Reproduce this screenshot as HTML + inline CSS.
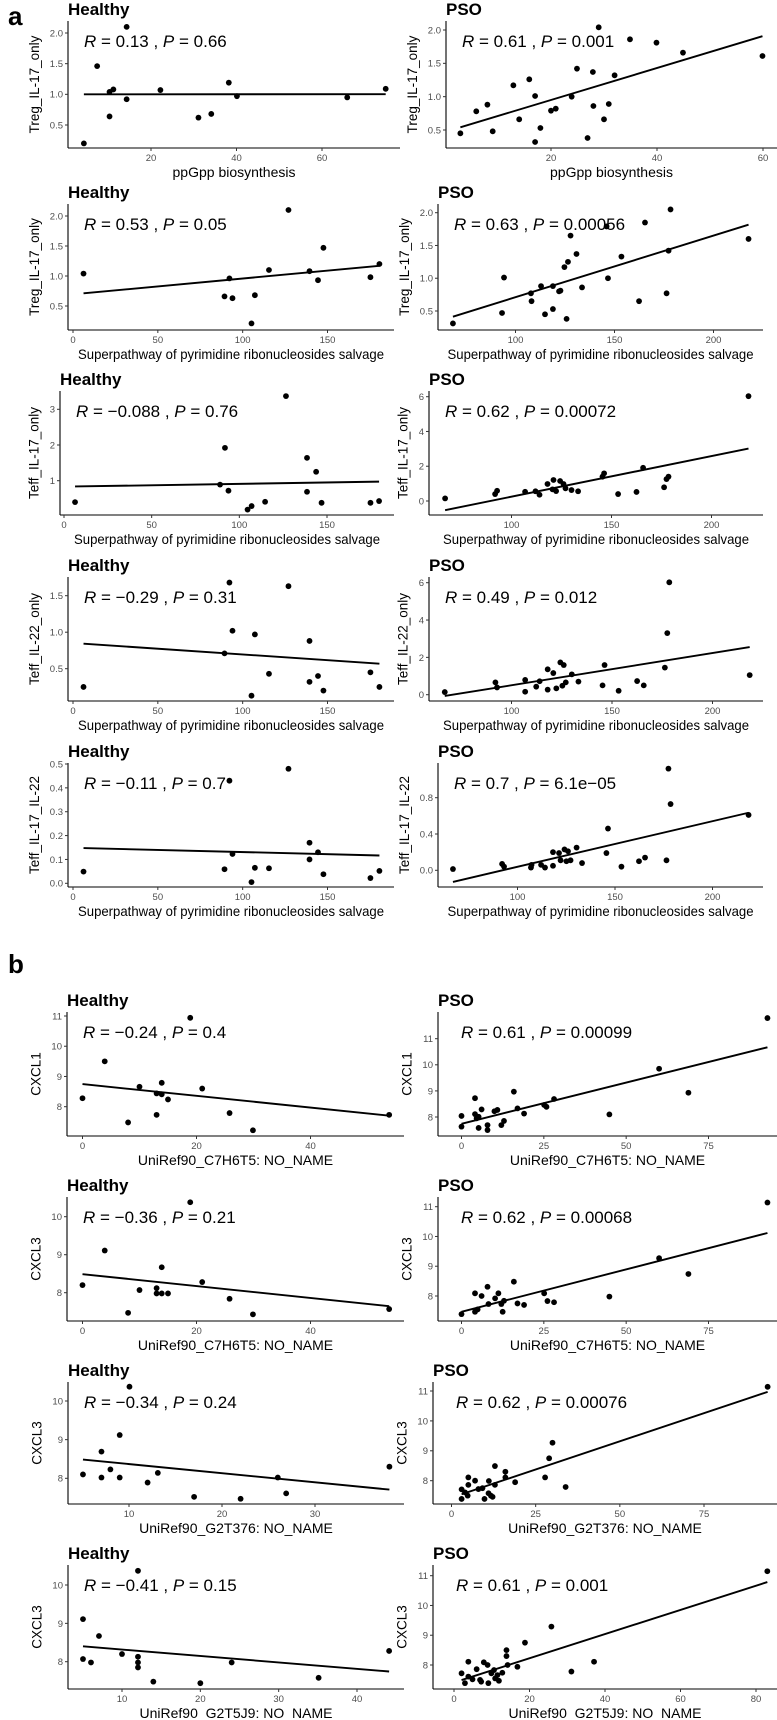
<!DOCTYPE html>
<html><head><meta charset="utf-8"><style>
html,body{margin:0;padding:0;background:#fff;}
svg{display:block;font-family:"Liberation Sans",Arial,sans-serif;}
</style></head><body>
<svg id="fig" width="777" height="1720" viewBox="0 0 777 1720" xmlns="http://www.w3.org/2000/svg">
<rect width="777" height="1720" fill="#fff"/>
<text x="8" y="25" font-size="26" font-weight="bold">a</text>
<text x="8" y="973" font-size="26" font-weight="bold">b</text>
</svg>
<script>
const a1hX=[4.3,7.4,14.3,10.3,11.2,10.3,14.3,22.2,31.1,34.1,38.2,40.1,65.9,74.9];
const a1hY=[0.20,1.46,2.10,1.04,1.08,0.64,0.92,1.07,0.62,0.68,1.19,0.97,0.95,1.09];
const a1pX=[2.9,5.9,8.0,9.0,12.9,14.0,15.9,17.0,17.0,18.0,20.0,20.9,23.9,24.9,27.9,28.0,26.9,29.0,30.0,30.9,32.0,34.9,39.9,44.9,59.9];
const a1pY=[0.45,0.78,0.88,0.48,1.17,0.66,1.26,1.01,0.32,0.53,0.79,0.82,1.0,1.42,1.37,0.86,0.38,2.04,0.66,0.89,1.32,1.86,1.81,1.66,1.61];
const a2hX=[6.2,89.3,92.2,94.0,107.2,105.2,115.5,127.0,139.4,144.4,147.6,175.3,180.6];
const a2hY=[1.04,0.66,0.96,0.63,0.68,0.21,1.10,2.10,1.08,0.93,1.47,0.98,1.20];
const a2pX=[68.4,93.2,94.2,107.8,108.1,112.9,114.9,118.9,118.9,122.0,122.7,124.7,126.5,125.8,127.8,130.8,133.6,146.0,146.7,153.5,162.4,165.4,176.3,177.3,178.3,217.7];
const a2pY=[0.31,0.47,1.01,0.77,0.65,0.88,0.45,0.88,0.53,0.80,0.81,1.17,1.25,0.38,1.65,1.37,0.86,1.79,1.0,1.33,0.65,1.85,0.77,1.42,2.05,1.60];
const a3hX=[6.3,89.0,91.8,93.8,104.7,107.0,114.7,126.6,138.6,138.6,143.8,146.9,174.8,179.7];
const a3hY=[0.40,0.89,1.92,0.72,0.19,0.29,0.41,3.37,0.69,1.64,1.25,0.38,0.38,0.43];
const a3pX=[66.8,91.8,92.8,106.8,112.0,114.0,118.0,120.5,121.0,122.3,124.3,126.0,127.0,130.0,133.3,145.5,146.3,153.3,162.5,165.8,176.3,177.5,178.5,218.5];
const a3pY=[0.15,0.40,0.59,0.53,0.56,0.36,0.98,0.67,1.21,0.57,1.15,0.98,0.73,0.63,0.56,1.40,1.59,0.40,0.52,1.91,0.79,1.26,1.40,6.03];
const a4hX=[6.2,89.3,92.2,94.0,107.2,105.2,115.5,127.0,139.4,139.4,144.4,147.6,175.3,180.6];
const a4hY=[0.25,0.71,1.68,1.02,0.97,0.13,0.43,1.63,0.88,0.32,0.40,0.20,0.45,0.25];
const a4pX=[66.8,92.0,92.8,106.8,106.8,112.3,114.0,118.0,118.0,120.8,122.3,124.3,125.3,126.0,127.0,130.0,133.3,145.3,146.3,153.3,162.5,165.8,176.3,177.5,178.5,218.5];
const a4pY=[0.14,0.66,0.39,0.79,0.16,0.43,0.72,1.36,0.27,1.16,0.34,1.73,0.48,1.59,0.66,1.09,0.70,0.50,1.59,0.21,0.73,0.50,1.45,3.30,6.02,1.05];
const a5hX=[6.2,89.3,94.0,92.2,105.2,107.2,115.5,127.0,139.4,139.4,144.4,147.6,175.3,180.6];
const a5hY=[0.049,0.059,0.123,0.43,0.005,0.065,0.063,0.48,0.10,0.17,0.13,0.038,0.022,0.052];
const a5pX=[66.9,92.1,93.1,106.9,107.2,112.1,114.1,118.2,118.2,121.3,122.1,124.1,125.9,125.1,127.2,130.3,133.1,145.6,146.4,153.3,162.3,165.4,176.4,177.4,178.5,218.5];
const a5pY=[0.014,0.07,0.04,0.03,0.06,0.06,0.03,0.05,0.20,0.19,0.11,0.23,0.21,0.10,0.11,0.25,0.08,0.19,0.46,0.04,0.10,0.14,0.11,1.12,0.73,0.61];
const b1hX=[0,3.9,8.0,10.0,13.0,13.0,13.9,13.9,15.0,18.9,21.0,25.8,29.9,53.8];
const b1hY=[8.28,9.50,7.48,8.66,8.44,7.73,8.79,8.41,8.24,10.94,8.60,7.79,7.22,7.73];
const b1pX=[0,0,4.1,4.1,4.6,5.2,5.2,6.1,7.9,7.9,10.0,10.9,12.1,12.9,15.9,17.0,19.0,25.1,25.8,28.1,44.9,60.0,68.9,92.9];
const b1pY=[8.04,7.63,8.72,8.11,7.95,8.01,7.58,8.29,7.69,7.50,8.22,8.27,7.69,7.85,8.97,8.33,8.13,8.46,8.39,8.69,8.10,9.85,8.93,11.79];
const b2hX=[0,3.9,8.0,10.0,13.0,13.0,13.9,13.9,15.0,18.9,21.0,25.8,29.9,53.8];
const b2hY=[8.20,9.11,7.47,8.07,8.12,7.98,7.98,8.67,7.98,10.38,8.28,7.84,7.43,7.57];
const b2pX=[0,4.1,4.1,4.9,6.1,7.9,8.2,10.2,11.2,12.1,12.5,12.9,15.9,17.0,19.0,25.1,26.1,28.1,44.9,60.0,68.9,92.9];
const b2pY=[7.39,8.09,7.47,7.55,8.0,8.31,7.73,7.92,8.09,7.73,7.47,7.84,8.48,7.75,7.70,8.09,7.83,7.79,7.98,9.27,8.74,11.14];
const b3hX=[5.05,7.04,7.04,8.0,9.0,9.0,10.05,12.0,13.1,17.0,22.0,26.0,26.9,38.0];
const b3hY=[8.10,8.69,8.02,8.23,9.12,8.02,10.37,7.89,8.14,7.52,7.47,8.02,7.61,8.30];
const b3pX=[3.0,3.0,4.0,4.8,5.0,5.0,7.0,8.0,9.2,9.8,11.0,11.1,11.7,12.2,12.9,16.0,16.0,12.9,18.9,27.8,29.0,30.0,33.9,93.9];
const b3pY=[7.39,7.71,7.61,7.50,7.86,8.11,8.00,7.72,7.75,7.39,7.58,7.99,7.50,7.46,7.86,8.11,8.30,8.49,7.95,8.11,8.75,9.27,7.79,11.14];
const b4hX=[5.02,5.02,6.04,7.06,10,12.04,12.04,12.04,12.04,14.0,20.0,24.0,35.1,44.1];
const b4hY=[8.07,9.11,7.98,8.67,8.20,8.13,7.98,7.85,10.37,7.48,7.44,7.98,7.58,8.28];
const b4pX=[2.0,2.9,3.8,3.8,4.9,6.0,6.9,7.2,7.9,8.9,9.1,9.9,10.6,10.9,11.5,11.9,12.8,13.9,13.9,14.2,16.8,18.8,25.8,31.1,37.1,83.0];
const b4pY=[7.72,7.39,8.11,7.61,7.52,7.86,7.50,7.44,8.09,8.0,7.39,7.72,7.83,7.55,7.66,7.47,7.74,8.50,8.30,8.0,7.94,8.75,9.29,7.78,8.11,11.15];

const rVals=["0.13","0.61","0.53","0.63","\u22120.088","0.62","\u22120.29","0.49","\u22120.11","0.7","\u22120.24","0.61","\u22120.36","0.62","\u22120.34","0.62","\u22120.41","0.61"];
const pVals=["0.66","0.001","0.05","0.00056","0.76","0.00072","0.31","0.012","0.7","6.1e\u221205","0.4","0.00099","0.21","0.00068","0.24","0.00076","0.15","0.001"];
const titles=["Healthy","PSO"];
const yLabels=["Treg_IL-17_only","Treg_IL-17_only","Teff_IL-17_only","Teff_IL-22_only","Teff_IL-17_IL-22","CXCL1","CXCL3","CXCL3","CXCL3"];
const xLabels=["ppGpp biosynthesis","Superpathway of pyrimidine ribonucleosides salvage","Superpathway of pyrimidine ribonucleosides salvage","Superpathway of pyrimidine ribonucleosides salvage","Superpathway of pyrimidine ribonucleosides salvage","UniRef90_C7H6T5: NO_NAME","UniRef90_C7H6T5: NO_NAME","UniRef90_G2T376: NO_NAME","UniRef90_G2T5J9: NO_NAME"];

// layout: box + two-point axis calibrations
const panels=[
 {id:"a1-healthy",X:a1hX,Y:a1hY,L:68,R:400,T:21,B:148,xv:[20,60],xp:[151,322],yv:[0.5,2],yp:[125,33],xt:[20,40,60],yt:[0.5,1,1.5,2],yd:1,row:0},
 {id:"a1-pso",X:a1pX,Y:a1pY,L:446,R:777,T:21,B:148,xv:[20,60],xp:[551,763],yv:[0.5,2],yp:[130,30],xt:[20,40,60],yt:[0.5,1,1.5,2],yd:1,row:0},
 {id:"a2-healthy",X:a2hX,Y:a2hY,L:68,R:394,T:204,B:330,xv:[0,150],xp:[73,327.5],yv:[0.5,2],yp:[306,216],xt:[0,50,100,150],yt:[0.5,1,1.5,2],yd:1,row:1},
 {id:"a2-pso",X:a2pX,Y:a2pY,L:438,R:763,T:204,B:330,xv:[100,200],xp:[515.5,713.5],yv:[0.5,2],yp:[311,212.7],xt:[100,150,200],yt:[0.5,1,1.5,2],yd:1,row:1},
 {id:"a3-healthy",X:a3hX,Y:a3hY,L:60,R:394,T:391,B:515,xv:[0,150],xp:[64,327],yv:[1,3],yp:[480.7,409.3],xt:[0,50,100,150],yt:[1,2,3],yd:0,row:2},
 {id:"a3-pso",X:a3pX,Y:a3pY,L:429,R:763,T:391,B:515,xv:[100,200],xp:[511.5,711.5],yv:[0,6],yp:[501,396.7],xt:[100,150,200],yt:[0,2,4,6],yd:0,row:2},
 {id:"a4-healthy",X:a4hX,Y:a4hY,L:68,R:394,T:577,B:701,xv:[0,150],xp:[73,327.5],yv:[0.5,1.5],yp:[668.7,595.7],xt:[0,50,100,150],yt:[0.5,1,1.5],yd:1,row:3},
 {id:"a4-pso",X:a4pX,Y:a4pY,L:429,R:763,T:577,B:701,xv:[100,200],xp:[511.5,712.5],yv:[0,6],yp:[694.7,582.7],xt:[100,150,200],yt:[0,2,4,6],yd:0,row:3},
 {id:"a5-healthy",X:a5hX,Y:a5hY,L:68,R:394,T:763,B:887,xv:[0,150],xp:[73,327.5],yv:[0,0.5],yp:[883.3,764],xt:[0,50,100,150],yt:[0,0.1,0.2,0.3,0.4,0.5],yd:1,row:4},
 {id:"a5-pso",X:a5pX,Y:a5pY,L:438,R:763,T:763,B:887,xv:[100,200],xp:[517.5,712.5],yv:[0,0.8],yp:[870.3,797.7],xt:[100,150,200],yt:[0,0.4,0.8],yd:1,row:4},
 {id:"b1-healthy",X:b1hX,Y:b1hY,L:67,R:404,T:1012,B:1136,xv:[0,40],xp:[82.5,310.5],yv:[8,11],yp:[1106.7,1016],xt:[0,20,40],yt:[8,9,10,11],yd:0,row:5},
 {id:"b1-pso",X:b1pX,Y:b1pY,L:438,R:777,T:1012,B:1136,xv:[0,75],xp:[461.5,708.5],yv:[8,11],yp:[1117,1038.7],xt:[0,25,50,75],yt:[8,9,10,11],yd:0,row:5,ax:23},
 {id:"b2-healthy",X:b2hX,Y:b2hY,L:67,R:404,T:1197,B:1321,xv:[0,40],xp:[82.5,310.5],yv:[8,10],yp:[1292.7,1216.7],xt:[0,20,40],yt:[8,9,10],yd:0,row:6},
 {id:"b2-pso",X:b2pX,Y:b2pY,L:438,R:777,T:1197,B:1321,xv:[0,75],xp:[461.5,708.5],yv:[8,11],yp:[1296,1206.7],xt:[0,25,50,75],yt:[8,9,10,11],yd:0,row:6,ax:23},
 {id:"b3-healthy",X:b3hX,Y:b3hY,L:68,R:404,T:1382,B:1504,xv:[10,30],xp:[129,315],yv:[8,10],yp:[1478.3,1401],xt:[10,20,30],yt:[8,9,10],yd:0,row:7},
 {id:"b3-pso",X:b3pX,Y:b3pY,L:433,R:777,T:1382,B:1504,xv:[0,75],xp:[451.5,704],yv:[8,11],yp:[1480.7,1391],xt:[0,25,50,75],yt:[8,9,10,11],yd:0,row:7,ax:23},
 {id:"b4-healthy",X:b4hX,Y:b4hY,L:68,R:404,T:1565,B:1689,xv:[10,40],xp:[122,357],yv:[8,10],yp:[1661.7,1585],xt:[10,20,30,40],yt:[8,9,10],yd:0,row:8},
 {id:"b4-pso",X:b4pX,Y:b4pY,L:433,R:777,T:1565,B:1689,xv:[0,80],xp:[454,756],yv:[8,11],yp:[1665,1575.7],xt:[0,20,40,60,80],yt:[8,9,10,11],yd:0,row:8,ax:23}
];

const NS="http://www.w3.org/2000/svg";
const svg=document.getElementById("fig");
function mk(tag,attrs,parent){const e=document.createElementNS(NS,tag);for(const k in attrs)e.setAttribute(k,attrs[k]);(parent||svg).appendChild(e);return e;}
function lin(v,p){const k=(p[1]-p[0])/(v[1]-v[0]);return x=>p[0]+(x-v[0])*k;}

panels.forEach((P,i)=>{
  const g=mk("g",{});
  
  
  const sx=lin(P.xv,P.xp), sy=lin(P.yv,P.yp);
  // title
  const t=mk("text",{x:P.L,y:P.T-6,"font-size":17,"font-weight":"bold"},g);
  t.textContent=titles[i%2];
  
  
  // axes
  const ya=mk("line",{x1:P.L,y1:P.T,x2:P.L,y2:P.B,stroke:"#000","stroke-width":1.1},g);
  
  
  const xa=mk("line",{x1:P.L,y1:P.B,x2:P.R,y2:P.B,stroke:"#000","stroke-width":1.1},g);
  
  
  // x ticks
  P.xt.forEach(v=>{
    const x=sx(v);
    mk("line",{x1:x,y1:P.B,x2:x,y2:P.B+3,stroke:"#333","stroke-width":1},g);
    const tl=mk("text",{x:x,y:P.B+13,"font-size":9.5,fill:"#4d4d4d","text-anchor":"middle"},g);
    tl.textContent=String(v);
    
    
  });
  // y ticks
  let maxW=0;
  P.yt.forEach(v=>{
    const y=sy(v);
    mk("line",{x1:P.L-3,y1:y,x2:P.L,y2:y,stroke:"#333","stroke-width":1},g);
    const tl=mk("text",{x:P.L-5,y:y+3.4,"font-size":9.5,fill:"#4d4d4d","text-anchor":"end"},g);
    tl.textContent=v.toFixed(P.yd);
    
    
    maxW=Math.max(maxW,tl.getComputedTextLength());
  });
  // y label
  const cy=(P.T+P.B)/2, lx=P.L-5-maxW-11;
  const yl=mk("text",{x:lx,y:cy,"font-size":13.5,"text-anchor":"middle",transform:`rotate(-90 ${lx} ${cy})`},g);
  yl.textContent=yLabels[P.row];
  
  
  // x label
  const xl=mk("text",{x:(P.L+P.R)/2,y:P.B+29,"font-size":14,"text-anchor":"middle"},g);
  xl.textContent=xLabels[P.row];
  if(xLabels[P.row].length>40){xl.setAttribute("textLength","306");xl.setAttribute("lengthAdjust","spacingAndGlyphs");}
  
  
  // points
  P.X.forEach((xv,j)=>{
    const c=mk("circle",{cx:sx(xv),cy:sy(P.Y[j]),r:2.9,fill:"#000"},g);
    
    
  });
  // regression line
  const n=P.X.length;let mx=0,my=0;P.X.forEach((x,j)=>{mx+=x;my+=P.Y[j];});mx/=n;my/=n;
  let sxy=0,sxx=0;P.X.forEach((x,j)=>{sxy+=(x-mx)*(P.Y[j]-my);sxx+=(x-mx)*(x-mx);});
  const b=sxy/sxx,a=my-b*mx;const x0=Math.min(...P.X),x1=Math.max(...P.X);
  const rl=mk("line",{x1:sx(x0),y1:sy(a+b*x0),x2:sx(x1),y2:sy(a+b*x1),stroke:"#000","stroke-width":1.9},g);
  
  
  // annotation
  const an=mk("text",{x:P.L+(P.ax||16),y:P.T+26,"font-size":17},g);
  
  
  const s1=mk("tspan",{"font-style":"italic"},an);s1.textContent="R";
  const s2=mk("tspan",{},an);s2.textContent=" = "+rVals[i]+" , ";
  const s3=mk("tspan",{"font-style":"italic"},an);s3.textContent="P";
  const s4=mk("tspan",{},an);s4.textContent=" = "+pVals[i];
});
</script>
</body></html>
